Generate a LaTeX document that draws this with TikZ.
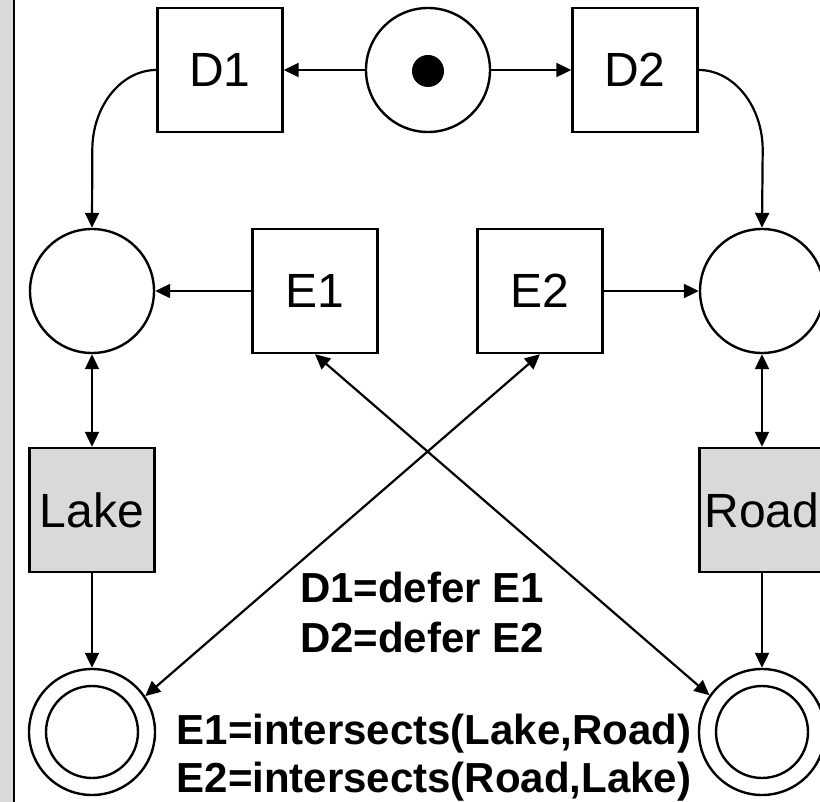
\documentclass[tikz,border=0pt]{standalone}
\usepackage{fontspec}
\setmainfont{Liberation Sans}
\usetikzlibrary{arrows.meta}
\definecolor{panel}{HTML}{D9D9D9}
\tikzset{
  trans/.style={draw, line width=2.4pt, minimum width=125pt, minimum height=124pt,
    inner sep=0pt, font=\fontsize{48}{56}\selectfont},
  datatrans/.style={trans, fill=panel},
  place/.style={draw, circle, line width=2.4pt, minimum size=124pt, inner sep=0pt},
  endplace/.style={draw, circle, line width=2.4pt, minimum size=126pt, inner sep=0pt},
  innerring/.style={draw, circle, line width=2.4pt, minimum size=92pt, inner sep=0pt},
  token/.style={circle, fill=black, minimum size=32pt, inner sep=0pt},
  arr/.style={-{Triangle[length=15pt,width=14pt]}},
  darr/.style={{Triangle[length=15pt,width=14pt]}-{Triangle[length=15pt,width=14pt]}},
  note/.style={font=\fontsize{42}{50}\selectfont\bfseries, anchor=base, inner sep=0pt}
}
\begin{document}
\begin{tikzpicture}[x=1pt,y=-1pt,line width=2.2pt]
\useasboundingbox (0,0) rectangle (820,802);
\clip (0,0) rectangle (820,802);
\fill[white] (0,0) rectangle (820,802);
% side panel edge
\fill[panel] (0,0) rectangle (13,802);
\draw[line width=2.5pt] (14,0) -- (14,802);

% top row
\node[trans] (D1) at (220,70) {D1};
\node[place] (T) at (428,70) {};
\node[token] (tok) at (428,71) {};
\node[trans] (D2) at (635,70) {D2};

% middle row
\node[place] (P1) at (92,291) {};
\node[trans] (E1) at (315,291) {E1};
\node[trans] (E2) at (540,291) {E2};
\node[place] (P2) at (762,291) {};

% data row
\node[datatrans] (Lake) at (92,510) {Lake};
\node[datatrans] (Road) at (762,510) {Road};

% end places
\node[endplace] (B1) at (92,732) {};
\node[innerring] (B1in) at (92,732) {};
\node[endplace] (B2) at (762,732) {};
\node[innerring] (B2in) at (762,732) {};

% connectors
\draw[arr] (T) -- (D1);
\draw[arr] (T) -- (D2);
\draw[arr] (D1.west) .. controls +(-35,0) and +(0,-44) .. ++(-64,80) -- (P1.north);
\draw[arr] (D2.east) .. controls +(35,0) and +(0,-44) .. ++(64,80) -- (P2.north);
\draw[arr] (E1) -- (P1);
\draw[arr] (E2) -- (P2);
\draw[darr] (P1) -- (Lake);
\draw[darr] (P2) -- (Road);
\draw[arr] (Lake) -- (B1);
\draw[arr] (Road) -- (B2);
\draw[darr] (B1.34) -- (E2.south);
\draw[darr] (B2.145) -- (E1.south);

% annotations
\node[note] (n1) at (422,602) {D1=defer E1};
\node[note] (n2) at (422,652) {D2=defer E2};
\node[note] (n3) at (434,744) {E1=intersects(Lake,Road)};
\node[note] (n4) at (434,792) {E2=intersects(Road,Lake)};
\end{tikzpicture}
\end{document}
